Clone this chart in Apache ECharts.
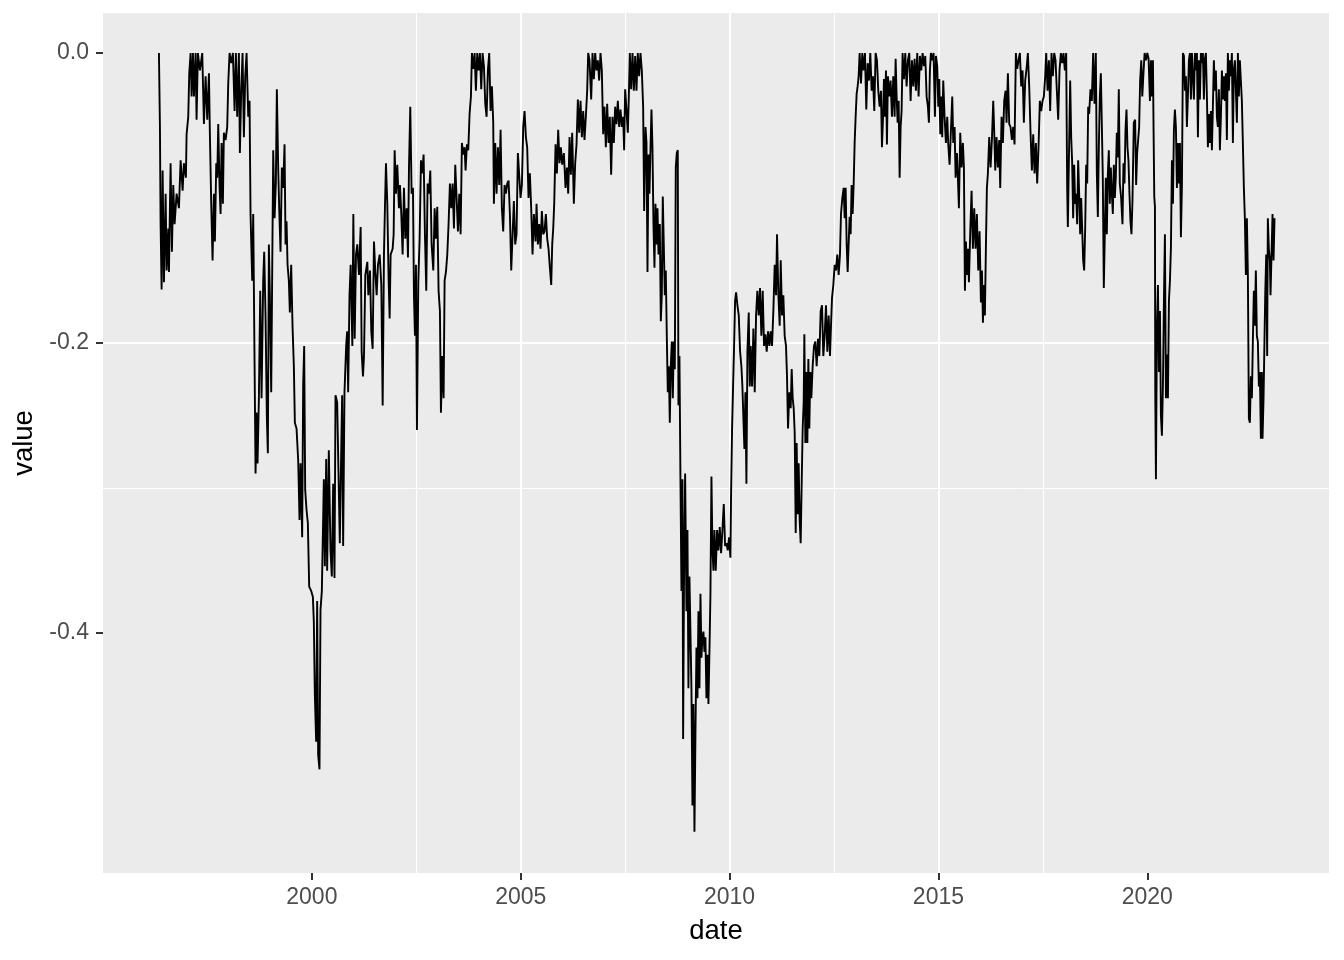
<!DOCTYPE html>
<html>
<head>
<meta charset="utf-8">
<script src="https://cdn.jsdelivr.net/npm/echarts@6/dist/echarts.min.js"></script>
<style>
html,body{margin:0;padding:0;background:#fff;}
#chart{width:1344px;height:960px;}
</style>
</head>
<body>
<div id="chart"></div>
<script>
// decimal-year dates
const dates = [
1996.339,1996.363,1996.379,1996.403,1996.427,1996.459,1996.499,1996.523,1996.563,1996.579,
1996.618,1996.650,1996.682,1996.714,1996.762,1996.818,1996.858,1996.906,1996.937,1996.985,
1997.001,1997.041,1997.065,1997.097,1997.121,1997.153,1997.177,1997.217,1997.240,1997.272,
1997.320,1997.376,1997.416,1997.456,1997.496,1997.536,1997.559,1997.591,1997.623,1997.655,
1997.679,1997.711,1997.735,1997.759,1997.791,1997.815,1997.839,1997.870,1997.894,1997.934,
1997.974,1997.998,1998.030,1998.070,1998.110,1998.150,1998.181,1998.213,1998.253,1998.277,
1998.309,1998.341,1998.373,1998.405,1998.437,1998.477,1998.508,1998.532,1998.572,1998.596,
1998.628,1998.652,1998.676,1998.700,1998.732,1998.764,1998.796,1998.835,1998.859,1998.891,
1998.923,1998.947,1998.971,1998.995,1999.027,1999.051,1999.075,1999.107,1999.138,1999.162,
1999.194,1999.218,1999.250,1999.282,1999.314,1999.346,1999.370,1999.394,1999.418,1999.449,
1999.473,1999.505,1999.537,1999.569,1999.593,1999.633,1999.673,1999.705,1999.729,1999.768,
1999.792,1999.816,1999.840,1999.872,1999.904,1999.936,1999.984,2000.024,2000.047,2000.071,
2000.103,2000.127,2000.151,2000.183,2000.207,2000.239,2000.263,2000.287,2000.311,2000.343,
2000.366,2000.406,2000.446,2000.478,2000.510,2000.542,2000.566,2000.606,2000.638,2000.669,
2000.701,2000.725,2000.749,2000.781,2000.821,2000.845,2000.869,2000.901,
2000.929,2000.969,2000.993,2001.025,2001.057,2001.088,2001.128,2001.168,2001.192,2001.224,
2001.248,2001.280,2001.328,2001.352,2001.392,2001.423,2001.455,2001.487,2001.519,2001.551,
2001.583,2001.623,2001.663,2001.695,2001.726,2001.750,2001.774,2001.806,2001.838,2001.862,
2001.886,2001.934,2001.958,2001.982,2002.013,2002.045,2002.085,2002.109,2002.141,2002.173,
2002.205,2002.237,2002.269,2002.301,2002.325,2002.356,2002.388,2002.420,2002.444,2002.468,
2002.492,2002.516,2002.548,2002.580,2002.612,2002.643,2002.675,2002.707,2002.739,2002.771,
2002.803,2002.835,2002.867,2002.907,2002.939,2002.970,2003.002,2003.034,2003.066,2003.090,
2003.122,2003.154,2003.178,2003.210,2003.242,2003.273,2003.305,2003.337,2003.369,2003.401,
2003.433,2003.465,2003.497,2003.529,2003.561,2003.592,2003.624,2003.656,2003.680,2003.712,
2003.744,2003.776,2003.808,2003.832,2003.864,2003.896,2003.927,2003.959,2003.991,2004.023,
2004.055,2004.087,2004.119,2004.151,2004.183,2004.214,2004.246,2004.278,2004.310,2004.342,
2004.358,2004.390,2004.422,2004.454,2004.486,2004.518,2004.549,2004.581,2004.613,2004.645,
2004.677,2004.709,2004.741,2004.773,2004.805,2004.836,2004.868,2004.900,2004.932,2004.964,
2004.996,2005.028,2005.060,2005.092,2005.124,2005.155,2005.187,2005.219,2005.251,2005.283,
2005.315,2005.355,2005.379,2005.411,2005.443,2005.474,2005.506,2005.538,2005.570,2005.602,
2005.634,2005.666,2005.698,
2005.730,2005.754,2005.778,2005.802,2005.834,2005.866,2005.897,2005.929,2005.961,2005.993,
2006.033,2006.073,2006.105,2006.137,2006.169,2006.200,2006.232,2006.272,2006.304,2006.336,
2006.368,2006.400,2006.432,2006.464,2006.496,2006.527,2006.559,2006.591,2006.615,2006.647,
2006.687,2006.719,2006.751,2006.783,2006.814,2006.846,2006.878,2006.910,2006.942,2006.974,
2007.006,2007.038,2007.070,2007.102,2007.133,2007.165,2007.197,2007.229,2007.261,2007.293,
2007.325,2007.357,2007.389,2007.421,2007.452,2007.476,2007.500,2007.532,2007.564,2007.588,
2007.612,2007.644,2007.676,2007.708,2007.740,2007.771,2007.803,2007.835,2007.867,2007.899,
2007.931,2007.955,2007.987,2008.011,2008.035,2008.059,2008.082,2008.106,2008.130,2008.154,
2008.178,2008.202,2008.226,2008.250,2008.274,2008.298,2008.330,2008.354,2008.378,2008.401,
2008.425,2008.449,2008.473,2008.497,2008.521,2008.545,2008.569,2008.593,2008.617,2008.641,
2008.665,2008.689,2008.712,2008.736,2008.760,2008.776,2008.800,2008.824,2008.848,2008.872,
2008.888,2008.912,2008.936,2008.968,2008.992,2009.015,2009.039,2009.063,2009.087,2009.111,
2009.135,2009.159,2009.183,2009.207,2009.231,2009.255,2009.279,2009.303,2009.327,2009.350,
2009.374,2009.398,2009.422,2009.446,2009.470,2009.494,2009.518,2009.542,2009.566,2009.590,
2009.614,2009.637,2009.669,2009.701,2009.733,2009.765,2009.797,2009.829,2009.861,2009.893,
2009.925,2009.956,2009.988,2010.020,2010.036,2010.060,2010.084,2010.108,2010.132,2010.156,
2010.188,2010.220,2010.252,2010.283,2010.307,2010.331,2010.355,2010.379,2010.403,2010.427,
2010.459,2010.483,
2010.506,2010.538,2010.570,2010.602,2010.634,2010.665,2010.697,2010.729,2010.761,2010.793,
2010.825,2010.857,2010.889,2010.921,2010.953,2010.984,2011.016,2011.048,2011.080,2011.112,
2011.136,2011.168,2011.200,2011.224,2011.256,2011.287,2011.319,2011.351,2011.375,2011.399,
2011.431,2011.463,2011.487,2011.511,2011.535,2011.559,2011.583,2011.606,2011.630,2011.654,
2011.678,2011.702,2011.726,2011.750,2011.774,2011.790,2011.814,2011.838,2011.862,2011.886,
2011.909,2011.933,2011.957,2011.989,2012.021,2012.053,2012.085,2012.117,2012.149,2012.181,
2012.213,2012.244,2012.276,2012.308,2012.340,2012.372,2012.404,2012.428,2012.452,2012.484,
2012.516,2012.547,2012.579,2012.611,2012.643,2012.667,2012.699,2012.731,2012.755,2012.779,
2012.803,2012.827,2012.850,2012.874,2012.898,2012.922,2012.946,2012.970,2012.994,2013.018,
2013.042,2013.066,2013.090,2013.114,2013.146,2013.177,2013.209,2013.241,2013.273,2013.305,
2013.337,2013.369,2013.401,2013.433,2013.464,2013.496,2013.528,2013.560,2013.592,2013.624,
2013.648,2013.672,2013.696,2013.720,2013.744,2013.767,2013.791,2013.823,2013.855,2013.887,
2013.919,2013.951,2013.975,2013.999,2014.023,2014.047,2014.071,2014.095,2014.118,2014.142,
2014.174,2014.206,2014.238,2014.270,2014.302,2014.334,2014.366,2014.398,2014.429,2014.461,
2014.493,2014.525,2014.557,2014.589,2014.621,2014.653,2014.685,2014.717,2014.748,2014.772,
2014.796,2014.820,2014.852,2014.884,2014.916,2014.940,2014.972,2014.996,2015.020,2015.044,
2015.067,2015.091,2015.115,2015.147,2015.179,2015.211,2015.235,2015.267,
2015.307,2015.331,2015.355,2015.387,2015.411,2015.443,2015.466,2015.490,2015.522,2015.554,
2015.586,2015.610,2015.634,2015.658,2015.682,2015.706,2015.730,2015.762,2015.793,2015.825,
2015.857,2015.889,2015.921,2015.953,2015.985,2016.017,2016.041,2016.065,2016.088,2016.112,
2016.136,2016.160,2016.184,2016.216,2016.248,2016.280,2016.312,2016.336,2016.360,2016.391,
2016.423,2016.455,2016.479,2016.511,2016.543,2016.575,2016.607,2016.631,2016.663,2016.695,
2016.726,2016.758,2016.790,2016.822,2016.854,2016.886,2016.918,2016.950,2016.982,2017.014,
2017.045,2017.077,2017.109,2017.141,2017.173,2017.205,2017.237,2017.269,2017.301,2017.333,
2017.364,2017.396,2017.428,2017.460,2017.492,2017.524,2017.556,2017.580,2017.612,2017.644,
2017.675,2017.707,2017.739,2017.771,2017.803,2017.835,2017.867,2017.899,2017.931,2017.963,
2017.994,2018.026,2018.058,2018.082,2018.098,2018.122,2018.154,2018.178,2018.202,2018.225,
2018.249,2018.273,2018.297,2018.321,2018.345,2018.369,2018.393,2018.417,2018.441,2018.465,
2018.489,2018.513,2018.537,2018.561,2018.585,2018.608,2018.640,2018.672,2018.704,2018.736,
2018.768,2018.792,2018.816,2018.840,2018.864,2018.888,2018.911,2018.935,2018.959,2018.983,
2019.007,2019.031,2019.055,2019.079,2019.103,2019.127,2019.151,2019.175,2019.199,2019.223,
2019.246,2019.270,2019.294,2019.318,2019.342,2019.374,2019.406,2019.430,2019.454,2019.478,
2019.502,2019.526,2019.549,2019.573,2019.597,2019.621,2019.645,2019.677,2019.709,2019.733,
2019.757,2019.781,2019.805,2019.829,
2019.856,2019.880,2019.912,2019.936,2019.968,2020.000,2020.031,2020.063,2020.087,2020.111,
2020.135,2020.151,2020.167,2020.183,2020.191,2020.207,2020.231,2020.255,2020.279,2020.303,
2020.326,2020.350,2020.374,2020.398,2020.422,2020.446,2020.470,2020.494,2020.518,2020.542,
2020.566,2020.590,2020.614,2020.637,2020.661,2020.685,2020.709,2020.733,2020.757,2020.781,
2020.805,2020.829,2020.853,2020.877,2020.901,2020.925,2020.948,2020.972,2020.996,2021.020,
2021.044,2021.068,2021.092,2021.116,2021.140,2021.164,2021.188,2021.212,2021.236,2021.259,
2021.283,2021.307,2021.331,2021.355,2021.379,2021.403,2021.427,2021.451,2021.475,2021.499,
2021.523,2021.547,2021.570,2021.594,2021.618,2021.642,2021.666,2021.690,2021.714,2021.738,
2021.762,2021.786,2021.810,2021.834,2021.858,2021.882,2021.905,2021.929,2021.953,2021.977,
2022.001,2022.025,2022.049,2022.073,2022.097,2022.121,2022.145,2022.169,2022.192,2022.216,
2022.240,2022.264,2022.288,2022.312,2022.336,2022.360,2022.384,2022.408,2022.432,2022.456,
2022.480,2022.504,2022.527,2022.551,2022.575,2022.599,2022.623,2022.647,2022.671,2022.695,
2022.719,2022.743,2022.759,2022.783,2022.807,2022.823,2022.847,2022.870,2022.886,2022.910,
2022.934,2022.950,2022.974,2022.998,2023.022,2023.046
];

// drawdown values
const values = [
0,-0.051,-0.118,-0.163,-0.081,-0.158,-0.097,-0.150,-0.121,-0.151,
-0.076,-0.137,-0.091,-0.118,-0.097,-0.107,-0.074,-0.095,-0.076,-0.086,
-0.056,-0.044,-0.014,0,-0.030,0,-0.030,0,-0.046,0,
-0.012,0,-0.049,-0.016,-0.046,-0.014,-0.056,-0.104,-0.143,-0.097,
-0.130,-0.076,-0.086,-0.049,-0.093,-0.111,-0.062,-0.104,-0.055,-0.060,
-0.051,-0.021,0,-0.007,0,-0.040,0,-0.044,0,-0.069,
-0.026,0,-0.058,-0.016,0,-0.044,-0.033,-0.111,-0.157,-0.111,
-0.213,-0.290,-0.248,-0.283,-0.238,-0.164,-0.238,-0.157,-0.137,-0.181,
-0.252,-0.276,-0.132,-0.167,-0.234,-0.150,-0.067,-0.114,-0.090,-0.025,
-0.079,-0.107,-0.137,-0.079,-0.093,-0.063,-0.132,-0.116,-0.146,-0.157,
-0.179,-0.146,-0.188,-0.216,-0.255,-0.259,-0.281,-0.322,-0.283,-0.334,
-0.229,-0.202,-0.301,-0.315,-0.324,-0.368,-0.371,-0.375,-0.392,-0.442,
-0.475,-0.378,-0.484,-0.494,-0.384,-0.371,-0.333,-0.294,-0.354,-0.280,
-0.357,-0.274,-0.343,-0.361,-0.297,-0.362,-0.236,-0.241,-0.290,-0.338,
-0.278,-0.236,-0.340,-0.234,-0.202,-0.192,-0.234,-0.167,
-0.146,-0.202,-0.111,-0.197,-0.139,-0.132,-0.153,-0.120,-0.206,-0.223,
-0.209,-0.153,-0.144,-0.167,-0.150,-0.192,-0.204,-0.130,-0.151,-0.167,
-0.146,-0.139,-0.160,-0.243,-0.139,-0.106,-0.076,-0.104,-0.157,-0.183,
-0.139,-0.135,-0.125,-0.067,-0.097,-0.077,-0.107,-0.091,-0.111,-0.139,
-0.093,-0.128,-0.107,-0.141,-0.079,-0.037,-0.097,-0.093,-0.167,-0.195,
-0.146,-0.260,-0.158,-0.128,-0.074,-0.083,-0.070,-0.125,-0.164,-0.090,
-0.097,-0.081,-0.132,-0.150,-0.107,-0.128,-0.106,-0.164,-0.178,-0.248,
-0.209,-0.238,-0.157,-0.151,-0.139,-0.118,-0.090,-0.107,-0.090,-0.121,
-0.077,-0.100,-0.123,-0.097,-0.125,-0.062,-0.070,-0.065,-0.081,-0.063,
-0.067,-0.042,-0.030,0,-0.011,0,-0.026,0,-0.012,0,
-0.025,0,-0.009,-0.035,-0.044,-0.012,0,-0.040,-0.023,-0.048,
-0.104,-0.062,-0.097,-0.065,-0.091,-0.053,-0.107,-0.123,-0.091,-0.097,
-0.090,-0.088,-0.111,-0.150,-0.150,-0.102,-0.132,-0.125,-0.069,-0.084,
-0.100,-0.091,-0.051,-0.040,-0.058,-0.065,-0.100,-0.083,-0.107,-0.139,
-0.111,-0.130,-0.104,-0.132,-0.118,-0.135,-0.109,-0.125,-0.123,-0.111,
-0.128,-0.135,-0.148,
-0.160,-0.132,-0.121,-0.104,-0.063,-0.083,-0.053,-0.076,-0.065,-0.077,
-0.069,-0.093,-0.079,-0.097,-0.058,-0.084,-0.055,-0.104,-0.076,-0.063,
-0.032,-0.055,-0.033,-0.058,-0.040,-0.060,-0.044,-0.026,0,-0.005,
-0.032,0,-0.018,0,-0.012,-0.005,-0.019,0,-0.012,-0.056,
-0.037,-0.065,-0.035,-0.062,-0.044,-0.084,-0.044,-0.062,-0.037,-0.049,
-0.033,-0.051,-0.039,-0.051,-0.044,-0.067,-0.025,-0.039,-0.055,-0.030,
0,-0.025,0,-0.026,-0.002,-0.026,0,-0.016,0,-0.012,
-0.037,-0.109,-0.051,-0.062,-0.151,-0.070,-0.097,-0.067,-0.039,-0.065,
-0.118,-0.148,-0.104,-0.132,-0.107,-0.139,-0.118,-0.185,-0.167,-0.099,
-0.132,-0.167,-0.150,-0.195,-0.234,-0.216,-0.255,-0.216,-0.199,-0.238,
-0.199,-0.218,-0.079,-0.069,-0.067,-0.243,-0.209,-0.294,-0.371,-0.294,
-0.473,-0.350,-0.290,-0.385,-0.329,-0.438,-0.361,-0.399,-0.438,-0.519,
-0.449,-0.537,-0.470,-0.410,-0.445,-0.385,-0.438,-0.373,-0.417,-0.403,
-0.399,-0.413,-0.403,-0.445,-0.415,-0.449,-0.413,-0.373,-0.292,-0.343,
-0.357,-0.329,-0.357,-0.329,-0.343,-0.327,-0.345,-0.329,-0.311,-0.340,
-0.338,-0.343,-0.334,-0.348,-0.304,-0.259,-0.230,-0.202,-0.171,-0.165,
-0.174,-0.181,-0.206,-0.216,-0.230,-0.252,-0.273,-0.234,-0.297,-0.206,
-0.179,-0.230,
-0.202,-0.230,-0.190,-0.234,-0.181,-0.164,-0.181,-0.162,-0.195,-0.164,
-0.202,-0.194,-0.206,-0.192,-0.202,-0.192,-0.202,-0.178,-0.146,-0.167,
-0.125,-0.167,-0.188,-0.143,-0.181,-0.167,-0.195,-0.202,-0.223,-0.259,
-0.234,-0.245,-0.218,-0.238,-0.245,-0.262,-0.331,-0.269,-0.318,-0.283,
-0.322,-0.338,-0.297,-0.259,-0.241,-0.194,-0.269,-0.220,-0.269,-0.211,
-0.259,-0.220,-0.238,-0.216,-0.202,-0.199,-0.216,-0.197,-0.209,-0.178,
-0.174,-0.209,-0.195,-0.174,-0.206,-0.181,-0.209,-0.188,-0.169,-0.160,
-0.146,-0.150,-0.139,-0.153,-0.139,-0.111,-0.100,-0.093,-0.114,-0.093,
-0.132,-0.151,-0.132,-0.113,-0.125,-0.091,-0.111,-0.091,-0.062,-0.044,
-0.028,-0.023,-0.016,0,-0.021,0,-0.012,0,-0.039,-0.007,
-0.019,0,-0.026,-0.016,-0.040,0,-0.005,-0.026,-0.037,-0.026,
-0.065,-0.046,-0.018,-0.044,-0.012,-0.063,-0.016,-0.030,-0.019,-0.044,
-0.016,-0.044,-0.004,-0.030,-0.048,-0.033,-0.086,-0.051,-0.040,0,
-0.018,0,-0.023,-0.005,0,-0.033,-0.005,-0.023,-0.004,-0.026,
0,-0.030,-0.002,-0.012,0,-0.009,-0.002,-0.030,-0.037,-0.048,
-0.012,0,-0.005,0,-0.044,-0.002,-0.009,-0.037,-0.018,-0.056,
-0.030,-0.058,-0.019,-0.044,-0.062,-0.044,-0.063,-0.077,
-0.076,-0.030,-0.062,-0.051,-0.086,-0.069,-0.086,-0.107,-0.055,-0.079,
-0.062,-0.079,-0.164,-0.130,-0.153,-0.135,-0.158,-0.123,-0.095,-0.135,
-0.107,-0.135,-0.111,-0.150,-0.123,-0.172,-0.150,-0.186,-0.160,-0.181,
-0.135,-0.093,-0.083,-0.058,-0.079,-0.060,-0.033,-0.055,-0.081,-0.058,
-0.079,-0.060,-0.093,-0.044,-0.062,-0.033,-0.026,-0.048,-0.014,-0.049,
-0.051,-0.060,-0.051,-0.063,0,-0.011,-0.005,0,-0.023,-0.012,
-0.048,-0.019,-0.011,0,-0.023,-0.055,-0.081,-0.056,-0.083,-0.062,
-0.090,-0.065,-0.033,-0.040,-0.033,-0.030,-0.016,0,-0.026,-0.005,
-0.040,0,-0.016,0,-0.005,-0.026,-0.046,-0.012,0,-0.007,
0,-0.012,0,-0.093,-0.120,-0.076,-0.019,-0.058,-0.076,-0.114,
-0.077,-0.104,-0.097,-0.118,-0.074,-0.097,-0.125,-0.100,-0.121,-0.143,
-0.150,-0.121,-0.077,-0.090,-0.037,-0.042,-0.025,-0.033,0,-0.035,
0,-0.083,-0.113,-0.065,-0.030,-0.014,-0.048,-0.086,-0.162,-0.125,
-0.086,-0.125,-0.084,-0.067,-0.104,-0.079,-0.097,-0.111,-0.077,-0.100,
-0.086,-0.055,-0.072,-0.025,-0.090,-0.100,-0.118,-0.076,-0.090,-0.053,
-0.039,-0.065,-0.074,-0.097,-0.116,-0.125,-0.102,-0.048,-0.046,-0.091,
-0.069,-0.060,-0.051,-0.019,
-0.005,-0.030,-0.012,0,-0.005,0,-0.004,-0.033,-0.005,-0.030,
-0.005,-0.055,-0.099,-0.106,-0.234,-0.294,-0.188,-0.160,-0.220,-0.178,
-0.250,-0.264,-0.230,-0.171,-0.125,-0.238,-0.208,-0.238,-0.171,-0.157,
-0.134,-0.074,-0.104,-0.053,-0.039,-0.051,-0.093,-0.062,-0.090,-0.062,
-0.127,-0.091,0,-0.002,-0.026,-0.016,-0.051,-0.030,-0.005,0,
-0.032,0,-0.016,-0.032,0,-0.012,0,-0.058,-0.005,-0.032,
0,-0.007,0,-0.032,-0.004,0,-0.030,-0.065,-0.042,-0.062,
-0.040,-0.067,-0.037,-0.005,-0.026,-0.012,-0.044,-0.051,-0.025,-0.067,
-0.044,-0.012,-0.032,-0.016,-0.033,-0.014,-0.060,0,-0.026,-0.005,
-0.016,0,-0.062,-0.011,-0.005,-0.026,-0.048,0,-0.030,-0.005,
-0.019,-0.033,-0.062,-0.093,-0.114,-0.153,-0.114,-0.153,-0.252,-0.255,
-0.223,-0.238,-0.199,-0.164,-0.188,-0.150,-0.195,-0.199,-0.230,-0.220,
-0.266,-0.220,-0.266,-0.238,-0.195,-0.167,-0.139,-0.209,-0.114,-0.135,
-0.143,-0.167,-0.139,-0.111,-0.143,-0.114
];

const xTickValues = [2000, 2005, 2010, 2015, 2020];
const xMinorValues = [1997.5, 2002.5, 2007.5, 2012.5, 2017.5, 2022.5];
const yTickValues = [-0.4, -0.2, 0];
const yMinorValues = [-0.5, -0.3, -0.1];

const FONT = 'Liberation Sans, Arial, Helvetica, sans-serif';
const xMin = 1995, xMax = 2024.35;
const yMin = -0.5655, yMax = 0.0276;

const seriesData = dates.map((d, i) => [d, values[i]]);

const chart = echarts.init(document.getElementById('chart'), null, {renderer: 'canvas'});
chart.setOption({
  animation: false,
  backgroundColor: '#ffffff',
  textStyle: {fontFamily: FONT},
  grid: {
    left: 103, right: 15, top: 13, bottom: 87,
    show: true, backgroundColor: '#EBEBEB', borderWidth: 0
  },
  xAxis: [
    {
      type: 'value', min: xMin, max: xMax, interval: 5, position: 'bottom',
      name: 'date', nameLocation: 'middle', nameGap: 44,
      nameTextStyle: {color: '#000000', fontSize: 27.5, fontFamily: FONT},
      axisLine: {show: false, onZero: false},
      axisTick: {show: true, length: 7, customValues: xTickValues,
                 lineStyle: {color: '#333333', width: 2}},
      axisLabel: {show: true, customValues: xTickValues, margin: 13,
                  color: '#4D4D4D', fontSize: 23, fontFamily: FONT,
                  formatter: v => String(Math.round(v))},
      splitLine: {show: true, showMinLine: false, showMaxLine: false,
                  lineStyle: {color: '#ffffff', width: 2}}
    },
    {
      type: 'value', min: xMin, max: xMax, position: 'bottom',
      axisLine: {show: false, onZero: false},
      axisTick: {show: false, customValues: xMinorValues},
      axisLabel: {show: false, customValues: xMinorValues},
      splitLine: {show: true, showMinLine: false, showMaxLine: false,
                  lineStyle: {color: '#ffffff', width: 1}}
    }
  ],
  yAxis: [
    {
      type: 'value', min: yMin, max: yMax, position: 'left',
      name: 'value', nameLocation: 'middle', nameGap: 64, nameRotate: 90,
      nameTextStyle: {color: '#000000', fontSize: 27.5, fontFamily: FONT},
      axisLine: {show: false, onZero: false},
      axisTick: {show: true, length: 7, customValues: yTickValues,
                 lineStyle: {color: '#333333', width: 2}},
      axisLabel: {show: true, customValues: yTickValues, margin: 14,
                  color: '#4D4D4D', fontSize: 23, fontFamily: FONT,
                  formatter: v => v.toFixed(1)},
      splitLine: {show: true, showMinLine: false, showMaxLine: false,
                  lineStyle: {color: '#ffffff', width: 2}}
    },
    {
      type: 'value', min: yMin, max: yMax, position: 'left',
      axisLine: {show: false, onZero: false},
      axisTick: {show: false, customValues: yMinorValues},
      axisLabel: {show: false, customValues: yMinorValues},
      splitLine: {show: true, showMinLine: false, showMaxLine: false,
                  lineStyle: {color: '#ffffff', width: 1}}
    }
  ],
  series: [{
    type: 'line',
    xAxisIndex: 0, yAxisIndex: 0,
    data: seriesData,
    showSymbol: false,
    symbol: 'none',
    sampling: 'none',
    clip: true,
    lineStyle: {color: '#000000', width: 1.9},
    z: 5
  }]
});
</script>
</body>
</html>
